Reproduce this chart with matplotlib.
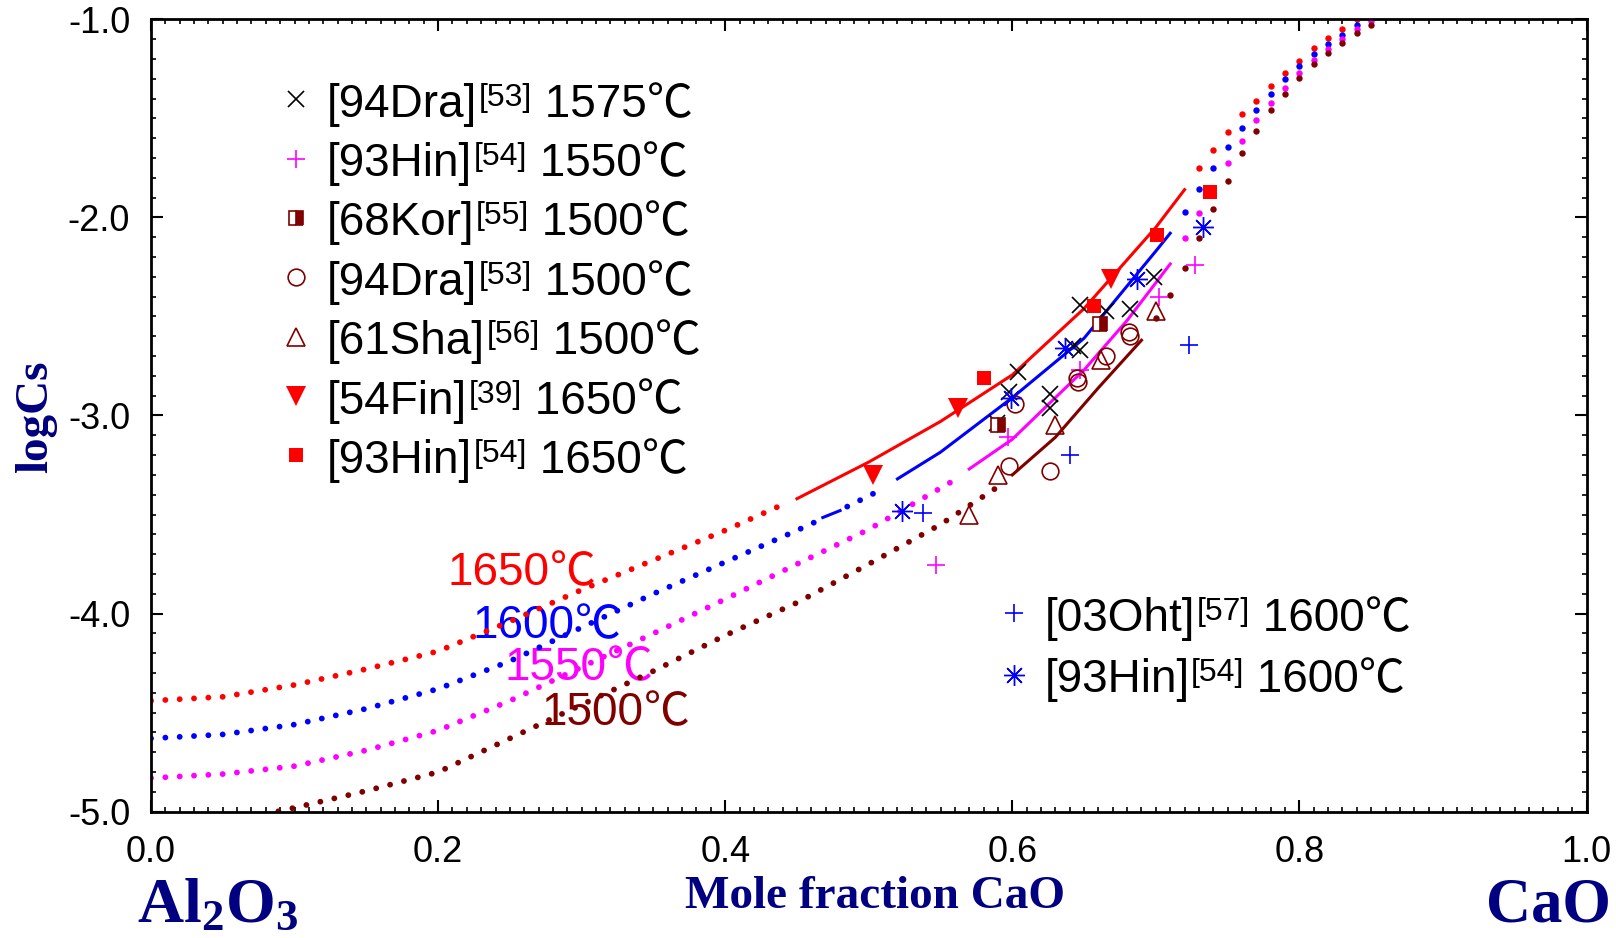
import matplotlib.pyplot as plt
from matplotlib.ticker import MultipleLocator, FormatStrFormatter

SANS = ['Liberation Sans', 'Noto Sans CJK SC', 'DejaVu Sans']
CJK = ['Noto Sans CJK SC', 'DejaVu Sans']
SERIF = 'Liberation Serif'
plt.rcParams['font.family'] = SANS
plt.rcParams['mathtext.fontset'] = 'custom'
plt.rcParams['mathtext.bf'] = 'Liberation Serif:bold'
plt.rcParams['mathtext.rm'] = 'Liberation Serif'

NAVY = '#000080'
RED = '#ff0000'
BLUE = '#0000ff'
MAGENTA = '#ff00ff'
MAROON = '#800000'

# calculated logCs curves, knots
# style per interval: d = dotted line, o = dot on every knot, s = solid, ' ' = gap
x1650 = [0, .05, .10, .15, .20, .25, .30, .35, .40, .44, .45, .50, .55, .60, .65, .70, .72,
         .73, .74, .75, .76, .77, .78, .79, .80, .81, .82, .83, .84]
y1650 = [-4.44, -4.42, -4.36, -4.28, -4.19, -4.04, -3.88, -3.73, -3.58, -3.45, -3.42, -3.235,
         -3.03, -2.795, -2.46, -2.05, -1.86, -1.75, -1.66, -1.57, -1.48, -1.41, -1.335, -1.27,
         -1.208, -1.147, -1.095, -1.048, -1.0]
s1650 = 'd' * 9 + ' ' + 's' * 6 + ' ' + 'o' * 11

x1600 = [0, .05, .10, .15, .20, .25, .30, .35, .40, .45, .465, .468, .48, .485, .51, .52, .55,
         .60, .65, .70, .71, .72, .73, .74, .75, .76, .77, .78, .79, .80, .81, .82, .83, .84, .85]
y1600 = [-4.63, -4.61, -4.56, -4.48, -4.38, -4.24, -4.07, -3.90, -3.74, -3.58, -3.53, -3.515,
         -3.48, -3.46, -3.37, -3.32, -3.185, -2.91, -2.61, -2.17, -2.08, -1.973, -1.855, -1.75,
         -1.645, -1.548, -1.457, -1.375, -1.302, -1.238, -1.176, -1.127, -1.077, -1.028, -1.0]
s1600 = 'd' * 10 + ' s d ' + 's' * 5 + ' ' + 'o' * 13

x1550 = [0, .05, .10, .15, .20, .25, .30, .35, .40, .45, .50, .56, .57, .60, .65, .68, .71,
         .72, .73, .74, .75, .76, .77, .78, .79, .80, .81, .82, .83, .84, .85]
y1550 = [-4.83, -4.81, -4.77, -4.69, -4.59, -4.44, -4.27, -4.10, -3.927, -3.75, -3.575, -3.325,
         -3.27, -3.12, -2.77, -2.52, -2.235, -2.106, -1.98, -1.855, -1.727, -1.614, -1.508,
         -1.42, -1.345, -1.27, -1.205, -1.148, -1.10, -1.05, -1.01]
s1550 = 'd' * 11 + ' ' + 's' * 4 + ' ' + 'o' * 13

x1500 = [0, .05, .10, .15, .20, .25, .30, .35, .40, .45, .50, .55, .59, .60, .63, .66, .69,
         .70, .71, .72, .73, .74, .75, .76, .77, .78, .79, .80, .81, .82, .83, .84, .85, .86]
y1500 = [-5.10, -5.06, -4.98, -4.895, -4.80, -4.63, -4.46, -4.29, -4.11, -3.945, -3.75, -3.55,
         -3.36, -3.30, -3.11, -2.86, -2.62, -2.51, -2.39, -2.253, -2.106, -1.96, -1.817, -1.676,
         -1.563, -1.46, -1.375, -1.295, -1.225, -1.169, -1.119, -1.07, -1.028, -0.99]
s1500 = 'd' * 12 + ' ' + 's' * 3 + ' ' + 'o' * 16

# experimental data
dra1575_x = [0.589, 0.598, 0.604, 0.626, 0.626, 0.642, 0.647, 0.647, 0.665, 0.682, 0.699]
dra1575_y = [-3.04, -2.88, -2.78, -2.89, -2.96, -2.65, -2.67, -2.44, -2.47, -2.46, -2.30]
hin1550_x = [0.547, 0.597, 0.647, 0.702, 0.727]
hin1550_y = [-3.755, -3.11, -2.77, -2.40, -2.24]
kor1500_x = [0.590, 0.661]
kor1500_y = [-3.05, -2.54]
dra1500_x = [0.598, 0.602, 0.626, 0.645, 0.646, 0.665, 0.681, 0.682]
dra1500_y = [-3.255, -2.94, -3.28, -2.81, -2.83, -2.70, -2.58, -2.60]
sha1500_x = [0.570, 0.590, 0.630, 0.662, 0.700]
sha1500_y = [-3.50, -3.30, -3.05, -2.72, -2.47]
fin1650_x = [0.503, 0.562, 0.669]
fin1650_y = [-3.30, -2.96, -2.31]
hin1650_x = [0.580, 0.657, 0.701, 0.738]
hin1650_y = [-2.81, -2.445, -2.09, -1.87]
oht1600_x = [0.538, 0.640, 0.723]
oht1600_y = [-3.49, -3.20, -2.645]
hin1600_x = [0.523, 0.599, 0.637, 0.687, 0.733]
hin1600_y = [-3.48, -2.91, -2.66, -2.31, -2.05]

# marker styles
st_dra1575 = dict(marker='x', color='black', ms=11, mew=1.2, ls='none')
st_hin1550 = dict(marker='+', color=MAGENTA, ms=13, mew=1.2, ls='none')
st_kor1500 = dict(marker='s', color=MAROON, ms=10, mew=1.2, ls='none', fillstyle='right',
                  markerfacecoloralt='white')
st_dra1500 = dict(marker='o', color=MAROON, mfc='none', ms=12, mew=1.2, ls='none')
st_sha1500 = dict(marker='^', color=MAROON, mfc='none', ms=13, mew=1.2, ls='none')
st_fin1650 = dict(marker='v', color=RED, ms=14, mew=0, ls='none')
st_hin1650 = dict(marker='s', color=RED, ms=10.5, mew=0, ls='none')
st_oht1600 = dict(marker='+', color=BLUE, ms=13, mew=1.2, ls='none')
st_hin1600 = dict(marker=(8, 2, 0), color=BLUE, ms=15, mew=1.0, ls='none')

fig = plt.figure(figsize=(16.16, 9.38), dpi=100)
ax = fig.add_axes([151 / 1616, 1 - 811.7 / 938, 1435.5 / 1616, 792.4 / 938])


def draw_model(x, y, styles, color):
    i = 0
    while i < len(styles):
        s = styles[i]
        j = i
        while j < len(styles) and styles[j] == s:
            j += 1
        xs, ys = x[i:j + 1], y[i:j + 1]
        if s == 'd':
            ax.plot(xs, ys, color=color, lw=4.2, ls=(0, (0.01, 2.45)),
                    dash_capstyle='round', zorder=2)
        elif s == 'o':
            ax.plot(xs, ys, color=color, ls='none', marker='o', ms=4.6, mew=0, zorder=2)
        elif s == 's':
            ax.plot(xs, ys, color=color, lw=2.2, zorder=2)
        i = j


def degc(prev, color, size):
    # the degree-celsius sign in the wide CJK form, right after prev
    return ax.annotate('℃', xy=(1, 0), xycoords=prev, va='bottom', color=color,
                       fontsize=size, family=CJK)


draw_model(x1650, y1650, s1650, RED)
draw_model(x1600, y1600, s1600, BLUE)
draw_model(x1550, y1550, s1550, MAGENTA)
draw_model(x1500, y1500, s1500, MAROON)

for lx, ly, lab, col in [(0.2066, -3.856, '1650', RED), (0.2243, -4.125, '1600', BLUE),
                         (0.2466, -4.335, '1550', MAGENTA), (0.2722, -4.562, '1500', MAROON)]:
    t = ax.text(lx, ly, lab, color=col, fontsize=33, zorder=1)
    ax.annotate('℃', xy=(1, ly), xycoords=(t, 'data'), color=col, fontsize=33,
                family=CJK, va='baseline', zorder=1)

ax.plot(dra1575_x, dra1575_y, zorder=3, **st_dra1575)
ax.plot(hin1550_x, hin1550_y, zorder=3, **st_hin1550)
ax.plot(kor1500_x, kor1500_y, zorder=3, **st_kor1500)
ax.plot(dra1500_x, dra1500_y, zorder=3, **st_dra1500)
ax.plot(sha1500_x, sha1500_y, zorder=3, **st_sha1500)
ax.plot(fin1650_x, fin1650_y, zorder=3, **st_fin1650)
ax.plot(hin1650_x, hin1650_y, zorder=3, **st_hin1650)
ax.plot(oht1600_x, oht1600_y, zorder=3, **st_oht1600)
ax.plot(hin1600_x, hin1600_y, zorder=3, **st_hin1600)


def legend_entry(xm, xt, ym, style, ref, sup, temp):
    ax.plot([xm], [ym], transform=ax.transAxes, clip_on=False, zorder=3, **style)
    yb = ym - 0.022
    t1 = ax.text(xt, yb, ref, transform=ax.transAxes, fontsize=33, va='baseline')
    t2 = ax.annotate(sup, xy=(1, 1), xycoords=t1, xytext=(1, 0), textcoords='offset points',
                     fontsize=23, va='top')
    t3 = ax.annotate(' ' + temp, xy=(1, yb), xycoords=(t2, 'axes fraction'), fontsize=33,
                     va='baseline')
    ax.annotate('℃', xy=(1, yb), xycoords=(t3, 'axes fraction'), fontsize=33,
                family=CJK, va='baseline')


rows = [(st_dra1575, '[94Dra]', '[53]', '1575'),
        (st_hin1550, '[93Hin]', '[54]', '1550'),
        (st_kor1500, '[68Kor]', '[55]', '1500'),
        (st_dra1500, '[94Dra]', '[53]', '1500'),
        (st_sha1500, '[61Sha]', '[56]', '1500'),
        (st_fin1650, '[54Fin]', '[39]', '1650'),
        (st_hin1650, '[93Hin]', '[54]', '1650')]
for k, (st, ref, sup, temp) in enumerate(rows):
    legend_entry(0.101, 0.1226, 0.899 - 0.0749 * k, st, ref, sup, temp)

legend_entry(0.601, 0.6225, 0.2504, st_oht1600, '[03Oht]', '[57]', '1600')
legend_entry(0.601, 0.6225, 0.1725, st_hin1600, '[93Hin]', '[54]', '1600')

ax.set_xlim(0, 1)
ax.set_ylim(-5, -1)
ax.xaxis.set_major_locator(MultipleLocator(0.2))
ax.xaxis.set_minor_locator(MultipleLocator(0.01))
ax.yaxis.set_major_locator(MultipleLocator(1.0))
ax.yaxis.set_minor_locator(MultipleLocator(0.1))
ax.xaxis.set_major_formatter(FormatStrFormatter('%.1f'))
ax.yaxis.set_major_formatter(FormatStrFormatter('%.1f'))
ax.tick_params(which='both', direction='in', top=True, right=True)
ax.tick_params(which='major', length=8.4, width=1.5, labelsize=26)
ax.tick_params(which='minor', length=3.6, width=1.2)
ax.tick_params(axis='x', which='major', pad=17)
ax.tick_params(axis='y', which='major', pad=15)
for sp in ax.spines.values():
    sp.set_linewidth(2.0)

fig.text(36 / 1616, 1 - 417 / 938, 'logCs', rotation=90, family=SERIF, weight='bold',
         fontsize=34, color=NAVY, ha='center', va='center')
fig.text(875.5 / 1616, 1 - 908 / 938, 'Mole fraction CaO', family=SERIF, weight='bold',
         fontsize=34, color=NAVY, ha='center', va='baseline')
fig.text(137 / 1616, 1 - 922 / 938, r'$\mathbf{Al_2O_3}$', fontsize=46, color=NAVY,
         ha='left', va='baseline')
fig.text(1485.6 / 1616, 1 - 921.7 / 938, 'CaO', family=SERIF, weight='bold', fontsize=45,
         color=NAVY, ha='left', va='baseline')

fig.savefig('out.png', dpi=100)
